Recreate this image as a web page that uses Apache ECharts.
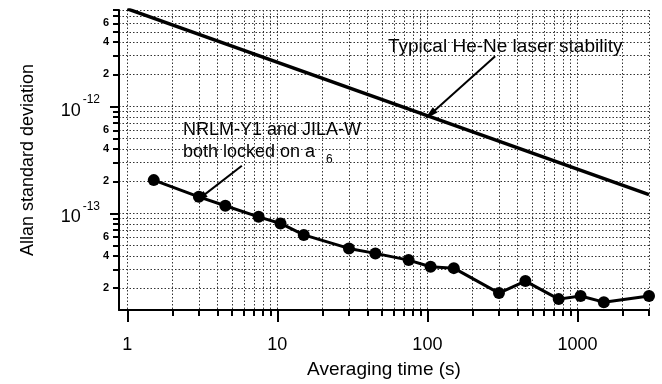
<!DOCTYPE html>
<html><head><meta charset="utf-8">
<script src="https://cdn.jsdelivr.net/npm/echarts@6/dist/echarts.min.js"></script>
<style>html,body{margin:0;padding:0;background:#fff}#c{width:662px;height:384px}</style>
</head><body><div id="c"></div>
<script>
// Averaging time (s) and Allan deviation for NRLM-Y1 / JILA-W
const tau = [1.5, 3, 4.5, 7.5, 10.5, 15, 30, 45, 75, 105, 150, 300, 450, 750, 1050, 1500, 3000];
const sigma = [2.05e-13, 1.43e-13, 1.18e-13, 9.3e-14, 8.06e-14, 6.3e-14, 4.71e-14, 4.23e-14, 3.66e-14, 3.17e-14, 3.08e-14, 1.80e-14, 2.33e-14, 1.58e-14, 1.69e-14, 1.48e-14, 1.69e-14];
// Typical He-Ne laser stability line
const heNeTau = [1, 3000];
const heNeSigma = [8.2e-12, 1.5e-13];
// tick values
const xMajorTicks = [1, 10, 100, 1000];
const xMinorTicks = [2, 3, 4, 5, 6, 7, 8, 9, 20, 30, 40, 50, 60, 70, 80, 90, 200, 300, 400, 500, 600, 700, 800, 900, 2000, 3000];
const yMajorTicks = [1e-13, 1e-12];
const yMinorTicks = [2e-14, 3e-14, 4e-14, 5e-14, 6e-14, 7e-14, 8e-14, 9e-14, 2e-13, 3e-13, 4e-13, 5e-13, 6e-13, 7e-13, 8e-13, 9e-13, 2e-12, 3e-12, 4e-12, 5e-12, 6e-12, 7e-12, 8e-12];
const yMinorLabels = [2e-14, 4e-14, 6e-14, 2e-13, 4e-13, 6e-13, 2e-12, 4e-12, 6e-12];
// annotation arrows (data coordinates)
const heNeArrowFrom = [283, 2.95e-12];
const heNeArrowTo = [104, 8.4e-13];
const nrlmArrowFrom = [5.8, 2.79e-13];
const nrlmArrowTo = [3.05, 1.39e-13];

const FONT = "'Liberation Sans', Arial, Helvetica, sans-serif";
const X_MIN = 0.88, X_MAX = 3000, Y_MIN = 1.25e-14, Y_MAX = 8e-12;

const chart = echarts.init(document.getElementById('c'), null, {renderer: 'canvas'});
const gridStyle = {color: '#333', width: 1, type: [1.5, 2]};
const arrowSym = 'path://M5,0 L10,16 L0,16 Z';

function mantissa(v) {
  const e = Math.floor(Math.log10(v) + 1e-9);
  return Math.round(v / Math.pow(10, e));
}
function exponent(v) {
  return Math.round(Math.log10(v));
}

chart.setOption({
  animation: false,
  textStyle: {fontFamily: FONT, color: '#000'},
  grid: {left: 119, right: 13, top: 10, bottom: 73, containLabel: false},
  xAxis: [
    {
      type: 'log', logBase: 10, min: X_MIN, max: X_MAX, position: 'bottom',
      axisLine: {show: true, lineStyle: {color: '#000', width: 2}},
      axisTick: {show: true, length: 6, customValues: xMinorTicks.concat(xMajorTicks), lineStyle: {color: '#000', width: 2}},
      axisLabel: {show: false},
      splitLine: {show: true, lineStyle: gridStyle},
      name: 'Averaging time (s)', nameLocation: 'middle', nameGap: 50,
      nameTextStyle: {fontSize: 19, fontFamily: FONT, color: '#000'}
    },
    {
      type: 'log', logBase: 10, min: X_MIN, max: X_MAX, position: 'bottom',
      axisLine: {show: false},
      axisTick: {show: true, length: 12, customValues: xMajorTicks, lineStyle: {color: '#000', width: 2}},
      axisLabel: {show: true, customValues: xMajorTicks, margin: 26, fontSize: 18, fontFamily: FONT, color: '#000',
        formatter: v => String(Math.round(v))},
      splitLine: {show: false}
    }
  ],
  yAxis: [
    {
      type: 'log', logBase: 10, min: Y_MIN, max: Y_MAX, position: 'left',
      axisLine: {show: true, lineStyle: {color: '#000', width: 2}},
      axisTick: {show: true, length: 6, customValues: yMinorTicks.concat(yMajorTicks), lineStyle: {color: '#000', width: 2}},
      axisLabel: {show: true, customValues: yMinorLabels, margin: 10, fontSize: 11, fontWeight: 'bold', fontFamily: FONT, color: '#000',
        formatter: v => String(mantissa(v))},
      splitLine: {show: true, lineStyle: gridStyle},
      name: 'Allan standard deviation', nameLocation: 'middle', nameGap: 82,
      nameTextStyle: {fontSize: 18, fontFamily: FONT, color: '#000'}
    },
    {
      type: 'log', logBase: 10, min: Y_MIN, max: Y_MAX, position: 'left',
      axisLine: {show: false},
      axisTick: {show: true, length: 9, customValues: yMajorTicks, lineStyle: {color: '#000', width: 2}},
      axisLabel: {show: true, customValues: yMajorTicks, margin: 19, fontFamily: FONT, color: '#000',
        formatter: v => '{b|10}{s|' + exponent(v) + '}',
        rich: {
          b: {fontSize: 18, fontFamily: FONT, color: '#000', verticalAlign: 'bottom', lineHeight: 26},
          s: {fontSize: 12, fontFamily: FONT, color: '#000', verticalAlign: 'top', lineHeight: 16, padding: [0, 0, 0, 2]}
        }},
      splitLine: {show: false}
    }
  ],
  series: [
    {
      type: 'line', name: 'He-Ne', xAxisIndex: 0, yAxisIndex: 0,
      data: heNeTau.map((t, i) => [t, heNeSigma[i]]),
      showSymbol: false, symbol: 'none',
      lineStyle: {color: '#000', width: 3.5},
      markLine: {
        silent: true, animation: false,
        label: {show: false},
        lineStyle: {color: '#000', width: 2, type: 'solid'},
        symbol: ['none', arrowSym],
        data: [
          [{coord: heNeArrowFrom, symbol: 'none'}, {coord: heNeArrowTo, symbol: arrowSym, symbolSize: [7, 14]}],
          [{coord: nrlmArrowFrom, symbol: 'none'}, {coord: nrlmArrowTo, symbol: arrowSym, symbolSize: [7, 14]}]
        ]
      }
    },
    {
      type: 'line', name: 'NRLM-Y1 / JILA-W', xAxisIndex: 0, yAxisIndex: 0,
      data: tau.map((t, i) => [t, sigma[i]]),
      symbol: 'circle', symbolSize: 12, showSymbol: true,
      itemStyle: {color: '#000'},
      lineStyle: {color: '#000', width: 3}
    }
  ],
  graphic: [
    {type: 'text', left: 388, top: 37, style: {text: 'Typical He-Ne laser stability', font: '19px ' + FONT, fill: '#000'}},
    {type: 'text', left: 183, top: 121, style: {text: 'NRLM-Y1 and JILA-W', font: '18px ' + FONT, fill: '#000'}},
    {type: 'text', left: 183, top: 143, style: {text: 'both locked on a', font: '18px ' + FONT, fill: '#000'}},
    {type: 'text', left: 326, top: 154, style: {text: '6', font: '12px ' + FONT, fill: '#000'}}
  ]
});
</script>
</body></html>
